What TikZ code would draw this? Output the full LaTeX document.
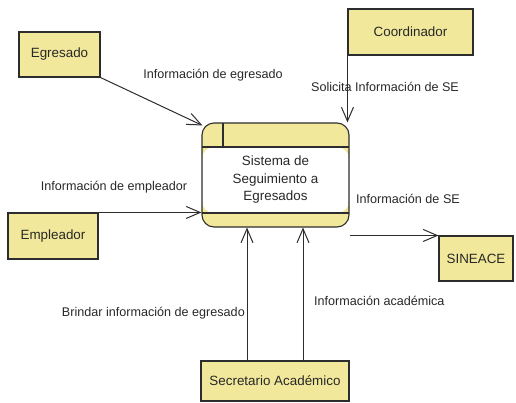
\documentclass[tikz,border=0pt]{standalone}
\usepackage{fontspec}
\setmainfont{Liberation Sans}
\definecolor{dfdyellow}{RGB}{242,232,155}
\definecolor{dfdline}{RGB}{45,45,45}
\definecolor{dfdtext}{RGB}{40,40,40}
\usetikzlibrary{arrows.meta,positioning,calc}

\begin{document}
\begin{tikzpicture}[x=1pt,y=-1pt,
        ent/.style={rectangle,draw=dfdline,fill=dfdyellow,line width=1.1pt,
                    font=\fontsize{13.4}{16}\selectfont,text=dfdtext},
        lbl/.style={font=\fontsize{12.6}{15}\selectfont,text=dfdtext,inner sep=0pt},
        flow/.style={draw=dfdline,line width=1pt,-{Straight Barb[length=14pt,width=12pt]}}]

        \useasboundingbox (0,0) rectangle (516,402);

        \node[ent,minimum width=81pt,minimum height=45pt]  (egr)   at (59.5,54.5)  {Egresado};
        \node[ent,minimum width=125pt,minimum height=46pt] (coord) at (410.5,32)   {Coordinador};
        \node[ent,minimum width=90pt,minimum height=46pt]  (emp)   at (53,236)     {Empleador};
        \node[ent,minimum width=74pt,minimum height=45pt]  (sin)   at (476,258.5)  {SINEACE};
        \node[ent,minimum width=148pt,minimum height=40pt] (sec)   at (275,381)    {Secretario Académico};

        % proceso con cabecera y pie
        \node[rectangle,rounded corners=12pt,draw=dfdline,fill=dfdyellow,line width=1.1pt,
              minimum width=147pt,minimum height=104pt,
              path picture={
                \fill[white] ([yshift=-24pt]path picture bounding box.north west)
                    rectangle ([yshift=14pt]path picture bounding box.south east);
                \draw[dfdline,line width=1.1pt] ([yshift=-24pt]path picture bounding box.north west)
                    -- ([yshift=-24pt]path picture bounding box.north east);
                \draw[dfdline,line width=1.1pt] ([yshift=14pt]path picture bounding box.south west)
                    -- ([yshift=14pt]path picture bounding box.south east);
                \draw[dfdline,line width=1.1pt] ([xshift=21pt]path picture bounding box.north west)
                    -- ([xshift=21pt,yshift=-24pt]path picture bounding box.north west);
              }] (proc) at (275.5,175) {};
        \node[lbl,align=center,font=\fontsize{13.4}{17.5}\selectfont] (proctxt) at (275.5,180)
              {Sistema de\\Seguimiento a\\Egresados};

        \draw[flow] (egr.south east) -- ([xshift=1pt,yshift=-3pt]proc.north west);
        \draw[flow] (coord.south west) -- (coord.south west |- proc.north);
        \draw[flow] (emp.north east) -- (emp.north east -| proc.west);
        \draw[flow] (proc.south east |- sin.north west) -- (sin.north west);
        \draw[flow] ([xshift=-28pt]sec.north) -- ([xshift=-28pt]sec.north |- proc.south);
        \draw[flow] ([xshift=28pt]sec.north) -- ([xshift=28pt]sec.north |- proc.south);

        \node[lbl] (l1) at (213,75)  {Información de egresado};
        \node[lbl] (l2) at (385,87)  {Solicita Información de SE};
        \node[lbl] (l3) at (114,187) {Información de empleador};
        \node[lbl] (l4) at (408,199) {Información de SE};
        \node[lbl,anchor=east] (l5) at (245,313) {Brindar información de egresado};
        \node[lbl,anchor=west] (l6) at (314,301) {Información académica};

    \end{tikzpicture}
\end{document}
